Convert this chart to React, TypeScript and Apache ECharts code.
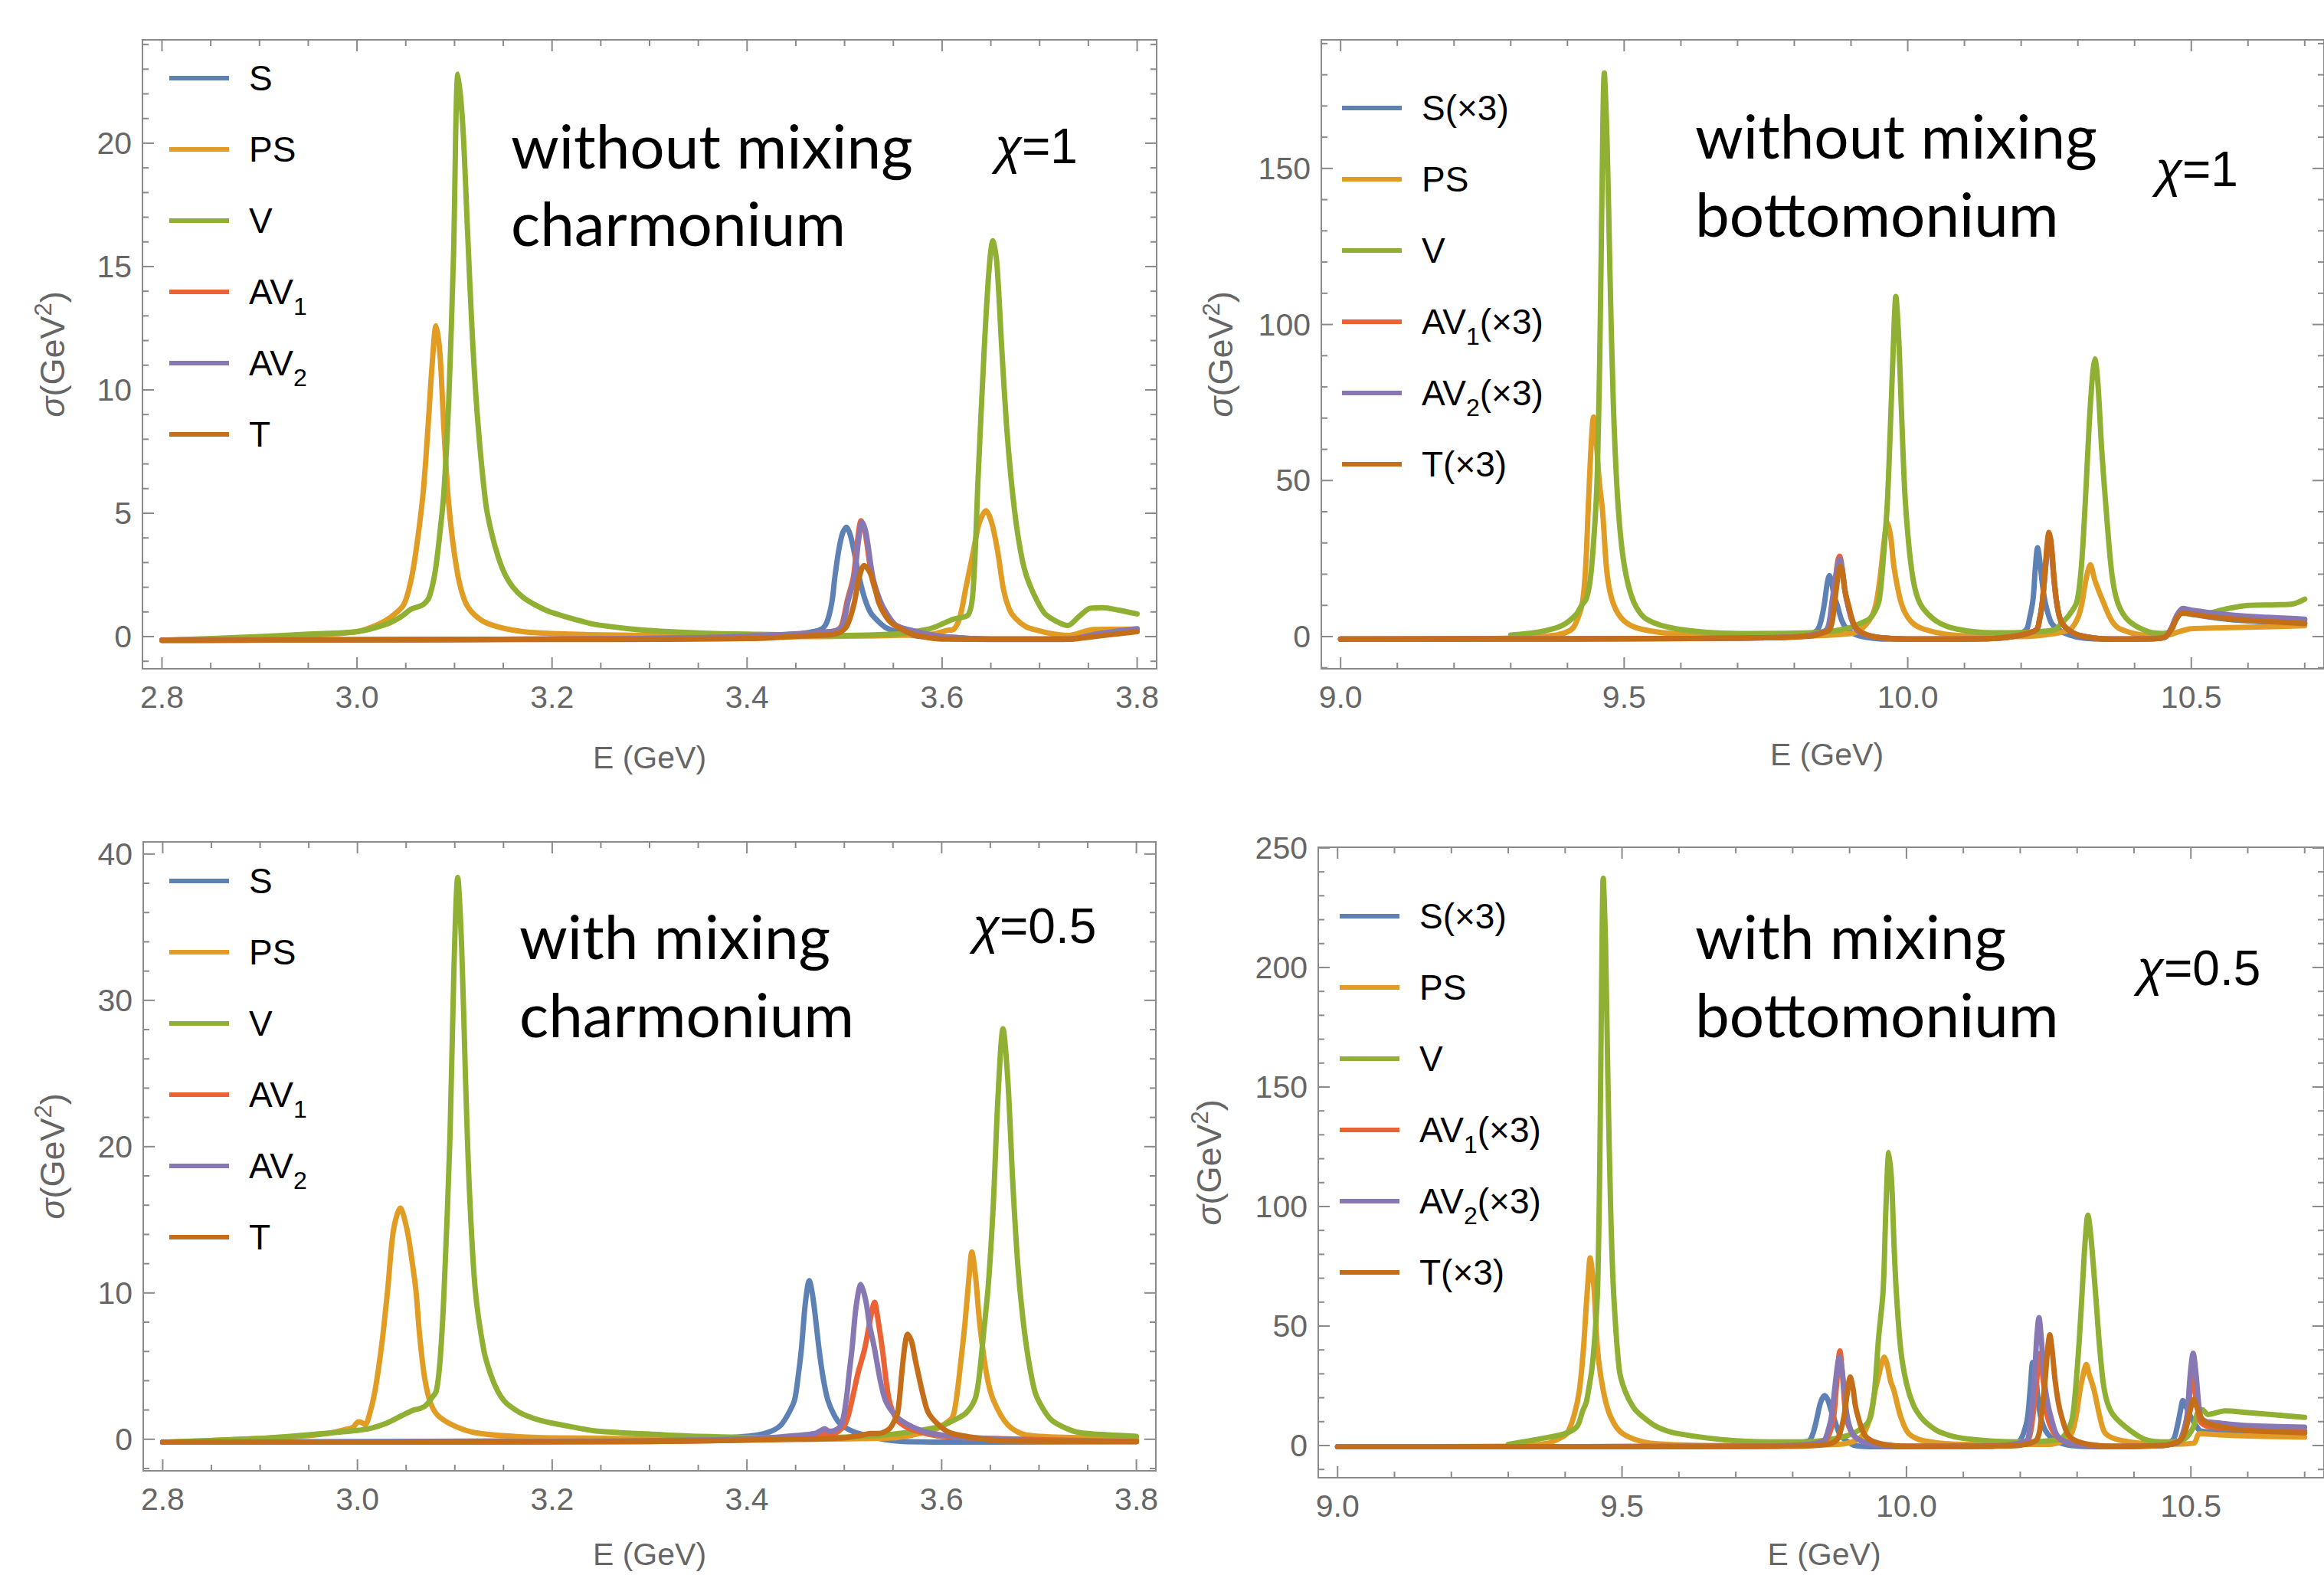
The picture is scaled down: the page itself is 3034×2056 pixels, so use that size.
import React, { useEffect, useRef } from 'react';
import * as echarts from 'echarts';

// ---------------- colours (Mathematica default palette) ----------------
const C_S = '#5E81B5';
const C_PS = '#E19C24';
const C_V = '#8FB032';
const C_AV1 = '#EB6235';
const C_AV2 = '#8778B3';
const C_T = '#C56E1A';

// ---------------- tick values / labels ----------------
const charmXTicks = [2.8, 3.0, 3.2, 3.4, 3.6, 3.8];
const charmXLabels = ['2.8', '3.0', '3.2', '3.4', '3.6', '3.8'];
const bottXTicks = [9.0, 9.5, 10.0, 10.5];
const bottXLabels = ['9.0', '9.5', '10.0', '10.5'];
const p1YTicks = [0, 5, 10, 15, 20];
const p1YLabels = ['0', '5', '10', '15', '20'];
const p2YTicks = [0, 50, 100, 150];
const p2YLabels = ['0', '50', '100', '150'];
const p3YTicks = [0, 10, 20, 30, 40];
const p3YLabels = ['0', '10', '20', '30', '40'];
const p4YTicks = [0, 50, 100, 150, 200, 250];
const p4YLabels = ['0', '50', '100', '150', '200', '250'];

// ---------------- panel 1 : charmonium, without mixing, chi = 1 ----------------
const c1_S = [[2.8,-0.15],[3.0,-0.13],[3.2,-0.1],[3.35,-0.05],[3.42,0.05],[3.46,0.15],[3.476,0.3],[3.482,0.6],[3.487,1.4],[3.490,2.4],[3.494,3.5],[3.498,4.2],[3.502,4.43],[3.506,4.1],[3.510,3.4],[3.515,2.4],[3.521,1.5],[3.527,0.95],[3.535,0.6],[3.543,0.35],[3.56,0.12],[3.58,0],[3.62,-0.1],[3.72,-0.12],[3.76,0.05],[3.8,0.25]];
const c1_PS = [[2.8,-0.15],[2.9,-0.05],[2.95,0.05],[3.0,0.2],[3.022,0.5],[3.035,0.8],[3.048,1.3],[3.056,2.4],[3.062,3.9],[3.068,5.9],[3.073,8.6],[3.077,11],[3.081,12.6],[3.085,11.5],[3.089,8.5],[3.094,5.4],[3.102,2.8],[3.110,1.5],[3.12,0.9],[3.136,0.5],[3.17,0.2],[3.22,0.1],[3.3,0.05],[3.45,0],[3.55,0.05],[3.59,0.1],[3.605,0.25],[3.612,0.3],[3.618,0.75],[3.624,1.9],[3.632,3.45],[3.638,4.6],[3.645,5.1],[3.651,4.6],[3.657,3.45],[3.663,1.9],[3.669,1.1],[3.675,0.75],[3.686,0.4],[3.697,0.26],[3.715,0.1],[3.73,0.05],[3.745,0.2],[3.755,0.29],[3.8,0.3]];
const c1_V = [[2.8,-0.15],[2.9,0],[2.95,0.1],[3.0,0.2],[3.03,0.5],[3.045,0.8],[3.055,1.1],[3.062,1.2],[3.068,1.3],[3.074,1.6],[3.080,2.6],[3.085,4.2],[3.089,5.8],[3.094,9.5],[3.099,15.5],[3.1035,22.8],[3.1085,20.7],[3.1135,16.3],[3.118,12.4],[3.1235,8.9],[3.132,5.4],[3.138,4.2],[3.145,3.2],[3.152,2.5],[3.16,2.0],[3.17,1.6],[3.182,1.3],[3.195,1.05],[3.21,0.85],[3.225,0.68],[3.243,0.5],[3.27,0.36],[3.3,0.25],[3.35,0.15],[3.4,0.1],[3.5,0.05],[3.55,0.1],[3.57,0.19],[3.59,0.35],[3.611,0.7],[3.627,0.9],[3.632,2],[3.637,6.5],[3.643,11.5],[3.648,14.8],[3.652,16.05],[3.656,15.2],[3.661,11.8],[3.666,8.6],[3.671,6.3],[3.677,4.3],[3.684,2.8],[3.692,1.9],[3.705,0.95],[3.718,0.6],[3.729,0.45],[3.74,0.8],[3.752,1.15],[3.765,1.17],[3.78,1.08],[3.8,0.92]];
const c1_AV1 = [[2.8,-0.15],[3.2,-0.1],[3.35,-0.05],[3.42,0.05],[3.46,0.12],[3.485,0.2],[3.492,0.25],[3.497,0.45],[3.503,1.5],[3.509,2.4],[3.513,3.8],[3.517,4.7],[3.521,4.25],[3.528,2.4],[3.535,1.5],[3.542,0.95],[3.552,0.45],[3.568,0.25],[3.585,0.1],[3.6,0],[3.65,-0.1],[3.73,-0.1],[3.76,0.1],[3.8,0.28]];
const c1_AV2 = [[2.8,-0.15],[3.2,-0.1],[3.35,-0.05],[3.42,0.05],[3.46,0.12],[3.485,0.2],[3.492,0.25],[3.498,0.45],[3.504,1.5],[3.510,2.4],[3.514,3.8],[3.518,4.64],[3.522,4.2],[3.529,2.4],[3.536,1.5],[3.543,0.95],[3.553,0.45],[3.569,0.25],[3.585,0.1],[3.6,0],[3.65,-0.1],[3.73,-0.1],[3.76,0.12],[3.8,0.32]];
const c1_T = [[2.8,-0.15],[3.2,-0.12],[3.4,-0.08],[3.47,0.05],[3.49,0.1],[3.501,0.35],[3.506,0.8],[3.510,1.38],[3.515,2.4],[3.520,2.88],[3.526,2.6],[3.531,2.0],[3.535,1.38],[3.541,0.9],[3.548,0.55],[3.566,0.15],[3.58,0],[3.6,-0.1],[3.73,-0.1],[3.76,0.02],[3.8,0.2]];

// ---------------- panel 2 : bottomonium, without mixing, chi = 1 ----------------
const b1_S = [[9.0,-0.8],[9.5,-0.7],[9.75,-0.4],[9.8,0],[9.83,1],[9.841,2.2],[9.847,5],[9.853,10.5],[9.858,17],[9.862,19.6],[9.866,17.5],[9.870,13],[9.875,10.5],[9.884,5],[9.894,2.2],[9.91,0.5],[9.93,-0.3],[9.96,-0.8],[10.15,-0.6],[10.19,0.5],[10.209,2.2],[10.215,6],[10.221,12],[10.225,22],[10.229,28.5],[10.233,24],[10.238,16],[10.243,10.5],[10.253,4.5],[10.266,2.2],[10.285,0.5],[10.31,-0.5],[10.35,-0.8],[10.44,-0.6],[10.455,0],[10.465,2.5],[10.475,6],[10.485,8],[10.5,7.2],[10.55,5.8],[10.6,5],[10.7,4.3]];
const b1_PS = [[9.0,-0.8],[9.3,-0.5],[9.38,0.5],[9.405,2],[9.414,4],[9.426,10.5],[9.432,22],[9.437,42.7],[9.442,62],[9.446,70.4],[9.451,62],[9.456,50],[9.462,40],[9.470,20],[9.481,10.5],[9.5,5],[9.53,2.4],[9.6,0.8],[9.8,0.2],[9.9,1],[9.918,2.4],[9.935,6],[9.944,10.5],[9.952,20],[9.958,30],[9.964,36.6],[9.970,32],[9.976,22],[9.989,10.5],[10.005,5],[10.028,2.4],[10.08,0.5],[10.2,0],[10.26,1],[10.287,2.4],[10.300,6],[10.307,10.5],[10.314,18],[10.322,23],[10.330,18],[10.346,10.5],[10.36,5],[10.375,2.4],[10.42,0.5],[10.46,0.5],[10.475,1.4],[10.5,2.5],[10.6,3],[10.7,3.5]];
const b1_V = [[9.3,0.5],[9.35,1.5],[9.39,3.5],[9.415,7],[9.425,10],[9.433,12],[9.440,18],[9.446,30],[9.452,49],[9.457,90],[9.460,130],[9.465,180.6],[9.470,158],[9.475,116],[9.481,74],[9.489,42.7],[9.5,23],[9.517,11],[9.54,5.5],[9.595,2.4],[9.7,1],[9.8,1.1],[9.86,1.6],[9.9,3],[9.92,4.5],[9.932,5.6],[9.942,8],[9.950,12],[9.957,25],[9.964,42.7],[9.970,70],[9.975,95],[9.979,109],[9.984,96],[9.989,72],[9.996,42.7],[10.008,20],[10.022,10.5],[10.05,5],[10.087,2.4],[10.15,1.2],[10.22,1.5],[10.259,2.2],[10.27,4],[10.285,7],[10.298,11],[10.306,22],[10.313,42.7],[10.320,68],[10.326,84],[10.330,89],[10.335,82],[10.342,60],[10.349,42.7],[10.36,20],[10.371,10.5],[10.39,5],[10.425,1.5],[10.45,1],[10.465,2],[10.48,7.5],[10.52,7.2],[10.56,8.8],[10.6,10],[10.65,10.2],[10.68,10.5],[10.7,12]];
const b1_AV1 = [[9.0,-0.8],[9.5,-0.7],[9.75,-0.4],[9.82,0.2],[9.845,1.2],[9.858,2.2],[9.863,5],[9.867,10.5],[9.873,19],[9.877,24.5],[9.880,25.8],[9.884,22.5],[9.889,15],[9.894,10.5],[9.902,5],[9.910,2.2],[9.925,0.6],[9.95,-0.3],[10.0,-0.8],[10.15,-0.6],[10.2,0.5],[10.227,2.2],[10.232,5],[10.237,10.5],[10.242,20],[10.246,28.5],[10.249,31.5],[10.253,28.5],[10.258,18],[10.263,10.5],[10.27,5],[10.283,2.2],[10.3,0.5],[10.33,-0.5],[10.36,-0.8],[10.44,-0.6],[10.455,0],[10.465,2.7],[10.475,6.8],[10.485,8.7],[10.5,8.2],[10.55,7],[10.6,6.2],[10.7,5.2]];
const b1_AV2 = [[9.0,-0.8],[9.5,-0.7],[9.75,-0.4],[9.82,0.2],[9.845,1.2],[9.857,2.2],[9.862,5],[9.866,10.5],[9.872,18],[9.877,23.5],[9.880,24.8],[9.884,22],[9.889,15],[9.894,10.5],[9.902,5],[9.910,2.2],[9.925,0.6],[9.95,-0.3],[10.0,-0.8],[10.15,-0.6],[10.2,0.5],[10.227,2.2],[10.232,5],[10.237,10.5],[10.242,20],[10.246,28],[10.249,31],[10.253,28],[10.258,18],[10.263,10.5],[10.27,5],[10.283,2.2],[10.3,0.5],[10.33,-0.5],[10.36,-0.8],[10.44,-0.6],[10.455,0],[10.465,2.8],[10.475,7],[10.485,9],[10.5,8.5],[10.55,7.3],[10.6,6.5],[10.7,5.6]];
const b1_T = [[9.0,-0.8],[9.5,-0.7],[9.75,-0.4],[9.83,0.2],[9.85,1.2],[9.862,2.2],[9.867,5],[9.871,10.5],[9.876,18],[9.881,22.5],[9.885,20.5],[9.890,14],[9.895,10.5],[9.903,5],[9.912,2.2],[9.928,0.6],[9.95,-0.3],[10.0,-0.8],[10.15,-0.6],[10.2,0.5],[10.227,2.2],[10.232,5],[10.237,10.5],[10.242,21],[10.246,30],[10.249,33.4],[10.253,30],[10.258,19],[10.263,10.5],[10.27,5],[10.283,2.2],[10.3,0.5],[10.33,-0.5],[10.36,-0.8],[10.44,-0.6],[10.455,0],[10.465,2.5],[10.475,6],[10.485,7.6],[10.5,7.2],[10.55,6],[10.6,5.2],[10.7,4.2]];

// ---------------- panel 3 : charmonium, with mixing, chi = 0.5 ----------------
const c2_S = [[2.8,-0.2],[3.2,-0.1],[3.35,0.05],[3.39,0.15],[3.411,0.29],[3.425,0.55],[3.435,0.98],[3.443,1.8],[3.449,2.7],[3.453,4.5],[3.456,6.2],[3.460,9.3],[3.464,10.84],[3.468,9.6],[3.474,6.2],[3.478,4.3],[3.483,2.7],[3.49,1.6],[3.497,0.98],[3.51,0.5],[3.521,0.29],[3.54,0],[3.56,-0.15],[3.65,-0.2],[3.8,-0.15]];
const c2_PS = [[2.8,-0.2],[2.9,0.05],[2.95,0.25],[2.97,0.4],[2.99,0.7],[2.996,0.85],[3.001,1.2],[3.004,1.15],[3.008,1.0],[3.012,1.6],[3.018,3.3],[3.025,6.5],[3.031,10.2],[3.037,14.3],[3.044,15.8],[3.051,14.3],[3.056,12.2],[3.060,10.2],[3.064,7.0],[3.069,4.2],[3.075,2.5],[3.083,1.6],[3.1,0.9],[3.121,0.45],[3.16,0.2],[3.2,0.1],[3.4,0],[3.55,0.1],[3.59,0.6],[3.602,1.0],[3.611,1.5],[3.615,2.7],[3.62,5.5],[3.624,7.96],[3.628,11],[3.631,12.8],[3.635,11],[3.639,7.96],[3.646,4.5],[3.653,2.7],[3.668,0.98],[3.687,0.29],[3.75,0.1],[3.8,0.05]];
const c2_V = [[2.8,-0.2],[2.9,0.05],[2.95,0.3],[3.0,0.6],[3.014,0.75],[3.03,1.1],[3.045,1.6],[3.058,2.0],[3.064,2.1],[3.07,2.3],[3.076,2.8],[3.081,3.3],[3.085,5.5],[3.089,10.2],[3.095,20.6],[3.099,31.9],[3.103,38.4],[3.107,33.7],[3.111,24.6],[3.115,17],[3.121,10.2],[3.13,6],[3.137,4.4],[3.144,3.3],[3.151,2.6],[3.158,2.2],[3.166,1.85],[3.174,1.6],[3.187,1.3],[3.2,1.1],[3.22,0.85],[3.243,0.58],[3.27,0.45],[3.3,0.35],[3.35,0.2],[3.45,0.1],[3.5,0.15],[3.55,0.35],[3.586,0.7],[3.6,0.9],[3.614,1.35],[3.625,1.8],[3.634,2.7],[3.638,4],[3.643,7.2],[3.648,10.6],[3.653,16],[3.658,23.6],[3.663,28.06],[3.668,24.5],[3.673,17.6],[3.678,12.1],[3.683,8.5],[3.689,5.5],[3.696,3.2],[3.704,2.1],[3.713,1.3],[3.726,0.8],[3.741,0.46],[3.77,0.3],[3.8,0.2]];
const c2_AV1 = [[2.8,-0.2],[3.3,-0.15],[3.45,0.05],[3.47,0.2],[3.48,0.4],[3.487,0.35],[3.495,0.6],[3.502,1.2],[3.508,2.7],[3.514,4.5],[3.521,6.2],[3.527,8.3],[3.531,9.36],[3.535,8],[3.539,6.2],[3.546,2.7],[3.554,1.35],[3.565,0.8],[3.58,0.46],[3.6,0.2],[3.65,0.05],[3.8,-0.15]];
const c2_AV2 = [[2.8,-0.2],[3.2,-0.15],[3.35,-0.05],[3.42,0.1],[3.45,0.25],[3.47,0.4],[3.476,0.6],[3.480,0.72],[3.484,0.55],[3.490,0.6],[3.497,0.98],[3.502,2.7],[3.505,4.5],[3.508,6.2],[3.512,9],[3.517,10.58],[3.522,9.5],[3.526,7.8],[3.531,6.2],[3.537,4],[3.542,2.7],[3.549,1.9],[3.557,1.35],[3.57,0.85],[3.586,0.46],[3.61,0.2],[3.65,0.05],[3.7,-0.1],[3.8,-0.15]];
const c2_T = [[2.8,-0.2],[3.3,-0.15],[3.45,0],[3.5,0.1],[3.52,0.3],[3.527,0.4],[3.535,0.4],[3.546,0.7],[3.551,1.2],[3.555,1.86],[3.559,4.47],[3.562,6.3],[3.565,7.18],[3.569,6.7],[3.573,5.4],[3.576,4.47],[3.581,3],[3.586,1.86],[3.595,1.1],[3.608,0.46],[3.63,0.15],[3.66,-0.1],[3.8,-0.15]];

// ---------------- panel 4 : bottomonium, with mixing, chi = 0.5 ----------------
const b2_S = [[9.0,-0.5],[9.7,-0.4],[9.8,0.5],[9.82,1.5],[9.83,2.2],[9.837,6],[9.843,11.9],[9.849,18],[9.856,20.9],[9.862,19],[9.867,15],[9.872,11.9],[9.882,5],[9.893,2.2],[9.91,0],[9.95,-0.5],[10.15,-0.3],[10.19,1],[10.2,2.2],[10.207,6],[10.213,11.9],[10.218,25],[10.222,34.8],[10.227,30],[10.231,20],[10.236,11.9],[10.245,6],[10.261,2.2],[10.29,0],[10.35,-0.5],[10.44,0],[10.468,2.2],[10.476,8],[10.482,15],[10.486,18.8],[10.492,16],[10.5,12],[10.51,8],[10.517,6.1],[10.55,5.6],[10.6,5.4],[10.7,5.3]];
const b2_PS = [[9.0,-0.5],[9.3,-0.3],[9.37,1],[9.39,3],[9.403,5],[9.415,12],[9.425,23],[9.432,40],[9.437,58],[9.440,68],[9.444,78.5],[9.448,72],[9.451,64.9],[9.457,40],[9.467,23],[9.48,12],[9.501,5],[9.55,1],[9.7,0],[9.88,0.5],[9.91,2],[9.925,5],[9.936,12],[9.945,23],[9.952,30],[9.957,35],[9.961,37],[9.966,34],[9.972,27],[9.978,23],[9.99,12],[10.004,5],[10.03,2],[10.1,0.5],[10.25,0.5],[10.275,2],[10.29,5],[10.298,12],[10.305,23],[10.311,30],[10.316,34],[10.321,30],[10.33,23],[10.34,12],[10.35,5],[10.38,2],[10.45,0.5],[10.505,1],[10.515,5],[10.55,4.5],[10.6,4],[10.7,3.5]];
const b2_V = [[9.3,0.5],[9.36,3],[9.40,5],[9.421,8],[9.431,14.6],[9.437,18],[9.441,23],[9.447,32],[9.452,45],[9.457,64.9],[9.461,120],[9.464,191],[9.467,237.3],[9.471,210],[9.475,155],[9.480,99],[9.485,64.9],[9.495,32],[9.505,23],[9.52,16],[9.534,12.5],[9.56,8],[9.598,5],[9.7,2],[9.8,1.5],[9.85,2],[9.9,4.5],[9.927,8.3],[9.937,12],[9.944,23],[9.951,45],[9.959,64.9],[9.964,100],[9.969,122.6],[9.974,110],[9.978,85],[9.982,64.9],[9.99,40],[10.0,26],[10.012,17],[10.025,12],[10.04,8.5],[10.06,5.5],[10.1,3],[10.2,1.5],[10.25,2],[10.274,3.3],[10.29,10],[10.297,23],[10.304,45],[10.309,64.9],[10.314,85],[10.319,96.4],[10.324,88],[10.332,64.9],[10.34,40],[10.348,23],[10.36,14],[10.384,8],[10.42,2.5],[10.46,1.5],[10.49,3],[10.505,8],[10.512,14],[10.52,15],[10.53,13],[10.56,14.5],[10.6,13.8],[10.65,12.8],[10.7,11.8]];
const b2_AV1 = [[9.0,-0.5],[9.75,-0.3],[9.84,0.5],[9.858,2.2],[9.866,6],[9.872,11.9],[9.877,25],[9.883,39.6],[9.888,28],[9.894,12],[9.905,5],[9.92,2],[9.95,0.3],[10.0,-0.3],[10.15,-0.2],[10.2,1],[10.215,3],[10.222,11.9],[10.228,25],[10.235,38.5],[10.241,26],[10.248,12],[10.26,5],[10.275,2],[10.3,0.5],[10.35,-0.3],[10.45,0],[10.48,2],[10.488,6],[10.495,15],[10.503,30],[10.509,20],[10.517,10],[10.53,8],[10.6,6.8],[10.7,6.2]];
const b2_AV2 = [[9.0,-0.5],[9.75,-0.3],[9.83,0.5],[9.85,1.5],[9.856,2.2],[9.862,6],[9.868,11.9],[9.874,24],[9.879,34],[9.882,37],[9.886,33],[9.891,22],[9.896,11.9],[9.905,5],[9.918,2.2],[9.94,0.5],[9.98,-0.3],[10.15,-0.2],[10.19,0.5],[10.205,1.5],[10.213,2.2],[10.219,11.9],[10.225,27.9],[10.229,45],[10.233,53.5],[10.237,45],[10.242,27.9],[10.248,18],[10.254,11.9],[10.263,5],[10.274,2.2],[10.3,0.5],[10.35,-0.3],[10.45,0],[10.475,1],[10.481,2.2],[10.487,6],[10.493,11.9],[10.499,30],[10.504,38.6],[10.509,30],[10.517,11.9],[10.527,10],[10.537,9.7],[10.6,8.3],[10.7,7.7]];
const b2_T = [[9.0,-0.5],[9.8,-0.3],[9.86,0.5],[9.877,2.2],[9.884,6],[9.890,11.9],[9.896,22],[9.901,28.7],[9.906,24],[9.91,17],[9.915,11.9],[9.925,5],[9.937,2.2],[9.96,0.5],[10.0,-0.3],[10.18,-0.2],[10.21,0.5],[10.228,2.2],[10.234,6],[10.237,11.9],[10.244,27.9],[10.248,40],[10.252,46.3],[10.256,40],[10.261,27.9],[10.267,18],[10.273,11.9],[10.283,5],[10.296,2.2],[10.32,0.5],[10.36,-0.3],[10.45,0],[10.48,2],[10.49,6],[10.498,14],[10.505,19.3],[10.512,15],[10.52,11],[10.526,9.7],[10.55,8],[10.588,6.5],[10.65,5.8],[10.7,5.3]];

// ---------------- layout / style ----------------
const FRAME = '#8a8a8a';
const LABEL = '#666666';
const AXFONT = "'Liberation Sans', Arial, sans-serif";
const TXTFONT = "Lato, 'Open Sans', sans-serif";

const charmNames = ['S', 'PS', 'V', 'AV1', 'AV2', 'T'];
const bottNames = ['S(×3)', 'PS', 'V', 'AV1(×3)', 'AV2(×3)', 'T(×3)'];
const colors = [C_S, C_PS, C_V, C_AV1, C_AV2, C_T];

const panels = [
  { l: 186, t: 52, r: 1510, b: 873, xMin: 2.78, xMax: 3.82, yMin: -1.304, yMax: 24.19,
    xT: charmXTicks, xL: charmXLabels, xMinor: 0.05, yT: p1YTicks, yL: p1YLabels, yMinor: 1,
    names: charmNames, data: [c1_S, c1_PS, c1_V, c1_AV1, c1_AV2, c1_T],
    legL: 221, legC: 102, t1: 'without mixing', t2: 'charmonium', tx: 667, tb1: 220, tb2: 321,
    chi: '1', chiX: 1299, chiB: 213, yTitleX: 68, xTitleY: 989 },
  { l: 1725, t: 52, r: 3045, b: 873, xMin: 8.966, xMax: 10.734, yMin: -10.31, yMax: 191.2,
    xT: bottXTicks, xL: bottXLabels, xMinor: 0.1, yT: p2YTicks, yL: p2YLabels, yMinor: 10,
    names: bottNames, data: [b1_S, b1_PS, b1_V, b1_AV1, b1_AV2, b1_T],
    legL: 1752, legC: 141, t1: 'without mixing', t2: 'bottomonium', tx: 2213, tb1: 207, tb2: 309,
    chi: '1', chiX: 2814, chiB: 243, yTitleX: 1593, xTitleY: 985 },
  { l: 187, t: 1099, r: 1509, b: 1920, xMin: 2.78, xMax: 3.82, yMin: -2.157, yMax: 40.83,
    xT: charmXTicks, xL: charmXLabels, xMinor: 0.05, yT: p3YTicks, yL: p3YLabels, yMinor: 2,
    names: charmNames, data: [c2_S, c2_PS, c2_V, c2_AV1, c2_AV2, c2_T],
    legL: 221, legC: 1150, t1: 'with mixing', t2: 'charmonium', tx: 678, tb1: 1252, tb2: 1354,
    chi: '0.5', chiX: 1270, chiB: 1231, yTitleX: 68, xTitleY: 2029 },
  { l: 1721, t: 1106, r: 3042, b: 1929, xMin: 8.966, xMax: 10.734, yMin: -13.46, yMax: 250.3,
    xT: bottXTicks, xL: bottXLabels, xMinor: 0.1, yT: p4YTicks, yL: p4YLabels, yMinor: 10,
    names: bottNames, data: [b2_S, b2_PS, b2_V, b2_AV1, b2_AV2, b2_T],
    legL: 1749, legC: 1196, t1: 'with mixing', t2: 'bottomonium', tx: 2213, tb1: 1252, tb2: 1354,
    chi: '0.5', chiX: 2790, chiB: 1286, yTitleX: 1578, xTitleY: 2029 },
];

function minorVals(major: number[], step: number, lo: number, hi: number) {
  const out: number[] = [];
  const start = major[0] - Math.floor((major[0] - lo) / step + 1e-9) * step;
  for (let v = start; v <= hi + 1e-9; v += step) {
    const r = Math.round(v / step) * step;
    if (!major.some((m) => Math.abs(m - r) < step * 0.01)) out.push(r);
  }
  return out;
}

function frameSeries(p: any, i: number) {
  const MAJ = 15, MIN = 8;
  return {
    type: 'custom', xAxisIndex: i, yAxisIndex: i, silent: true, clip: false, z: 10,
    data: [[p.xMin, p.yMin]],
    renderItem: (_params: any, api: any) => {
      const ch: any[] = [];
      const ln = (x1: number, y1: number, x2: number, y2: number) =>
        ch.push({ type: 'line', shape: { x1, y1, x2, y2 }, style: { stroke: FRAME, lineWidth: 2 } });
      const txt = (text: string, x: number, y: number, align: string) =>
        ch.push({ type: 'text', x, y, style: { text, fill: LABEL, fontSize: 41, fontFamily: AXFONT,
          align, verticalAlign: 'middle', textAlign: align, textVerticalAlign: 'middle' } });
      const xs = p.xT.map((v: number) => [v, MAJ]).concat(minorVals(p.xT, p.xMinor, p.xMin, p.xMax).map((v) => [v, MIN]));
      xs.forEach(([v, len]: number[]) => {
        const b = api.coord([v, p.yMin]);
        const t = api.coord([v, p.yMax]);
        ln(b[0], b[1], b[0], b[1] - len);
        ln(t[0], t[1], t[0], t[1] + len);
      });
      const ys = p.yT.map((v: number) => [v, MAJ]).concat(minorVals(p.yT, p.yMinor, p.yMin, p.yMax).map((v) => [v, MIN]));
      ys.forEach(([v, len]: number[]) => {
        const a = api.coord([p.xMin, v]);
        const c = api.coord([p.xMax, v]);
        ln(a[0], a[1], a[0] + len, a[1]);
        ln(c[0], c[1], c[0] - len, c[1]);
      });
      p.xT.forEach((v: number, k: number) => {
        const b = api.coord([v, p.yMin]);
        txt(p.xL[k], b[0], b[1] + 37, 'center');
      });
      p.yT.forEach((v: number, k: number) => {
        const a = api.coord([p.xMin, v]);
        txt(p.yL[k], a[0] - 14, a[1], 'right');
      });
      return { type: 'group', children: ch };
    },
  };
}

function buildOption() {
  const grid: any[] = [], xAxis: any[] = [], yAxis: any[] = [], series: any[] = [], legend: any[] = [], graphic: any[] = [];
  panels.forEach((p, i) => {
    grid.push({ left: p.l, top: p.t, width: p.r - p.l, height: p.b - p.t, show: true,
      borderColor: FRAME, borderWidth: 2, backgroundColor: 'transparent', containLabel: false });
    xAxis.push({ type: 'value', gridIndex: i, min: p.xMin, max: p.xMax, show: false });
    yAxis.push({ type: 'value', gridIndex: i, min: p.yMin, max: p.yMax, show: false });
    p.data.forEach((d, k) => {
      series.push({
        type: 'line', name: p.names[k], xAxisIndex: i, yAxisIndex: i, data: d,
        showSymbol: false, symbol: 'none', smooth: 0.3,
        lineStyle: { width: 7, color: colors[k], cap: 'round', join: 'round' },
        itemStyle: { color: colors[k] }, emphasis: { disabled: true }, silent: true, z: 2 + k,
      });
    });
    series.push(frameSeries(p, i));
    legend.push({
      orient: 'vertical', left: p.legL, top: p.legC - 35, padding: 0, itemGap: 23,
      itemWidth: 78, itemHeight: 6, icon: 'rect', selectedMode: false, data: p.names,
      formatter: (n: string) => n.replace(/^AV(\d)/, 'AV{sub|$1}'),
      textStyle: { color: '#000', fontSize: 46, fontFamily: AXFONT, lineHeight: 70, padding: [0, 0, 0, 21],
        rich: { sub: { fontSize: 32, lineHeight: 32, verticalAlign: 'bottom', color: '#000', fontFamily: AXFONT } } },
    });
    // annotation texts
    const F = 80;
    graphic.push({ type: 'text', x: p.tx, y: p.tb1 - 0.387 * F, silent: true,
      style: { text: p.t1, fontSize: F, fontFamily: TXTFONT, fill: '#000', verticalAlign: 'middle', textVerticalAlign: 'middle' } });
    graphic.push({ type: 'text', x: p.tx, y: p.tb2 - 0.387 * F, silent: true,
      style: { text: p.t2, fontSize: F, fontFamily: TXTFONT, fill: '#000', verticalAlign: 'middle', textVerticalAlign: 'middle' } });
    const CF = 64;
    graphic.push({ type: 'text', x: p.chiX, y: p.chiB - 0.3465 * CF, silent: true,
      style: { text: '{i|χ}=' + p.chi, fontSize: CF, fontFamily: AXFONT, fill: '#000', verticalAlign: 'middle', textVerticalAlign: 'middle',
        rich: { i: { fontStyle: 'italic', fontSize: CF, fontFamily: AXFONT, fill: '#000' } } } });
    // axis titles
    graphic.push({ type: 'text', x: (p.l + p.r) / 2, y: p.xTitleY, silent: true,
      style: { text: 'E (GeV)', fontSize: 41, fontFamily: AXFONT, fill: LABEL, align: 'center', verticalAlign: 'middle', textAlign: 'center', textVerticalAlign: 'middle' } });
    graphic.push({ type: 'text', x: p.yTitleX, y: (p.t + p.b) / 2, rotation: Math.PI / 2, silent: true,
      style: { text: '{i|σ}(GeV{sup|2})', fontSize: 45, fontFamily: AXFONT, fill: LABEL, align: 'center', verticalAlign: 'middle',
        textAlign: 'center', textVerticalAlign: 'middle', lineHeight: 54,
        rich: { i: { fontStyle: 'italic', fontSize: 45, fontFamily: AXFONT, fill: LABEL, lineHeight: 54 },
                sup: { fontSize: 31, fontFamily: AXFONT, fill: LABEL, lineHeight: 31, verticalAlign: 'top' } } } });
  });
  return { animation: false, backgroundColor: '#ffffff', grid, xAxis, yAxis, series, legend, graphic };
}

export default function App() {
  const ref = useRef<HTMLDivElement>(null);
  useEffect(() => {
    if (!ref.current) return;
    const chart = echarts.init(ref.current, null, { renderer: 'svg' });
    chart.setOption(buildOption() as any);
    return () => chart.dispose();
  }, []);
  return (
    <div ref={ref} style={{ position: 'absolute', left: 0, top: 0, width: 3034, height: 2056, background: '#fff' }} />
  );
}
